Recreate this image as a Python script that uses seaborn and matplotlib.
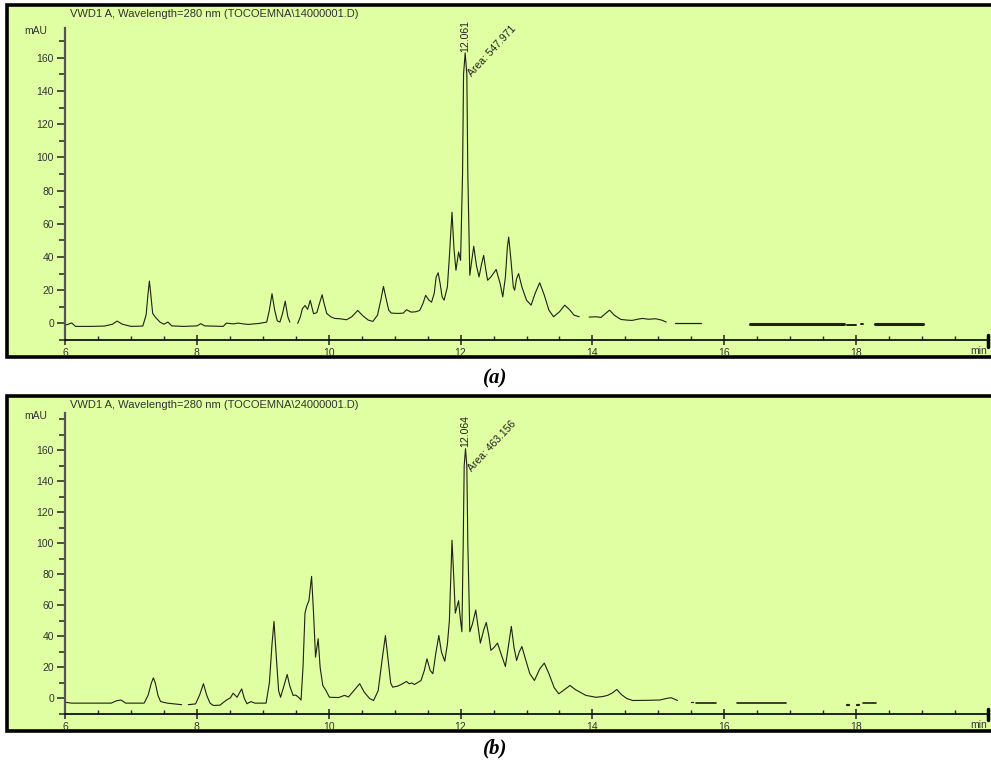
import numpy as np
import pandas as pd
import matplotlib
matplotlib.use("Agg")
import matplotlib.pyplot as plt
import seaborn as sns
from matplotlib.patches import Rectangle
from matplotlib.ticker import MultipleLocator

# ---------------- data ----------------
# Panel (a): retention time (min) and signal (mAU) vertices
a_time = [6.00, 6.05, 6.10, 6.16, 6.40, 6.60, 6.72, 6.79, 6.87, 7.00, 7.18, 7.23, 7.26, 7.28, 7.30,
          7.33, 7.37, 7.44, 7.50, 7.56, 7.62, 7.80, 8.00, 8.06, 8.12, 8.40, 8.45, 8.55, 8.63, 8.70,
          8.78, 8.95, 9.06, 9.10, 9.14, 9.18, 9.22, 9.26, 9.30, 9.34, 9.38, 9.41,
          9.53, 9.57, 9.60, 9.64, 9.68, 9.72, 9.75, 9.77, 9.82, 9.86, 9.90, 9.93, 9.97, 10.03,
          10.09, 10.17, 10.27, 10.35, 10.44, 10.52, 10.60, 10.67, 10.74, 10.79, 10.83, 10.87, 10.91,
          10.95, 11.05, 11.13, 11.18, 11.25, 11.32, 11.38, 11.43, 11.47, 11.52, 11.56, 11.60, 11.63,
          11.66, 11.69, 11.72, 11.75, 11.80, 11.83, 11.87, 11.90, 11.93, 11.97, 12.00, 12.03, 12.045,
          12.07, 12.095, 12.11, 12.14, 12.17, 12.20, 12.24, 12.28, 12.32, 12.35, 12.38, 12.41, 12.46,
          12.54, 12.60, 12.64, 12.68, 12.71, 12.73, 12.76, 12.80, 12.82, 12.85, 12.88, 12.93, 13.00,
          13.07, 13.13, 13.20, 13.27, 13.34, 13.41, 13.50, 13.58, 13.66, 13.72, 13.80,
          13.95, 14.05, 14.13, 14.20, 14.26, 14.33, 14.43, 14.52, 14.60, 14.70, 14.76, 14.85, 14.96,
          15.05, 15.12,
          15.26, 15.65,
          16.39, 17.82,
          17.86, 18.00,
          18.07, 18.10,
          18.29, 19.02]
a_mau = [-1.0, -0.5, 0.3, -1.8, -1.8, -1.6, -0.5, 1.4, -0.5, -1.8, -1.6, 5, 18, 25.5, 18,
         6, 3.8, 0.8, -0.5, 0.8, -1.5, -1.8, -1.5, -0.2, -1.5, -1.8, 0.2, -0.3, 0.2, -0.3,
         -0.6, 0.0, 0.8, 8, 17.9, 8, 1.5, 0.8, 6, 13.4, 4, 0.8,
         0.0, 4, 8.8, 10.8, 8.5, 13.9, 9, 5.8, 6.5, 12, 17.3, 12, 6, 4,
         3, 2.8, 2.2, 4, 7.8, 4.5, 2, 1.2, 5, 14, 22.3, 15, 8,
         6.2, 6, 6.2, 8.2, 6.8, 7, 7.8, 12, 16.9, 14, 12.8, 18, 28,
         30.5, 24, 16, 14, 22, 40, 67, 45, 32, 43, 38, 90, 150,
         163, 150, 90, 29, 38, 46.5, 35, 28, 36, 41, 33, 26, 28,
         32.5, 24, 16, 28, 46, 52, 40, 22, 20, 27, 30, 22, 14,
         11, 18, 24.5, 17, 8, 4, 7, 11, 8, 5, 4,
         3.8, 4, 3.6, 6, 8, 5, 2.4, 2, 1.8, 2.6, 3, 2.5, 2.8,
         2, 0.8,
         0.4, 0.4,
         -0.4, -0.4,
         -1.2, -1.2,
         -0.6, -0.6,
         -0.4, -0.4]
a_gap_starts = [9.45, 13.85, 15.2, 15.9, 17.84, 18.03, 18.2]
a_seg_width = [0.8, 0.8, 0.8, 0.9, 2.2, 1.4, 1.4, 2.2]

# Panel (b)
b_time = [6.00, 6.10, 6.70, 6.78, 6.85, 6.92, 7.20, 7.26, 7.31, 7.34, 7.37, 7.41, 7.45, 7.55, 7.77,
          7.87, 7.98, 8.04, 8.10, 8.15, 8.20, 8.25, 8.35, 8.45, 8.51, 8.55, 8.61, 8.68, 8.72, 8.76,
          8.82, 8.88, 9.05, 9.10, 9.14, 9.17, 9.20, 9.24, 9.27, 9.32, 9.37, 9.41, 9.46, 9.50, 9.55,
          9.58, 9.61, 9.64, 9.67, 9.70, 9.74, 9.77, 9.80, 9.84, 9.87, 9.91, 9.96, 10.01, 10.15,
          10.24, 10.30, 10.40, 10.47, 10.54, 10.62, 10.68, 10.75, 10.81, 10.86, 10.90, 10.94, 10.97,
          11.05, 11.12, 11.18, 11.22, 11.26, 11.30, 11.40, 11.45, 11.49, 11.54, 11.58, 11.62, 11.67,
          11.71, 11.76, 11.80, 11.83, 11.87, 11.90, 11.92, 11.97, 12.00, 12.02, 12.04, 12.055, 12.075,
          12.095, 12.11, 12.14, 12.18, 12.23, 12.27, 12.30, 12.35, 12.39, 12.43, 12.46, 12.51, 12.56,
          12.62, 12.68, 12.73, 12.77, 12.81, 12.85, 12.89, 12.93, 12.98, 13.05, 13.12, 13.20, 13.27,
          13.34, 13.42, 13.49, 13.57, 13.66, 13.75, 13.90, 14.05, 14.15, 14.23, 14.30, 14.37, 14.44,
          14.52, 14.61, 14.80, 15.02, 15.12, 15.19, 15.25, 15.29,
          15.50, 15.52,
          15.57, 15.87,
          16.20, 16.94,
          17.86, 17.89,
          18.01, 18.04,
          18.10, 18.30]
b_mau = [-2.4, -3.0, -3.0, -1.5, -1.0, -3.0, -3.0, 2, 10, 13.3, 10, 2, -2, -3, -4,
         -4, -3.5, 2, 9.5, 2, -3, -4.5, -4.3, -1, 0.5, 3.4, 0.8, 6.2, 0, -3.4,
         -2, -3, -3, 10, 35, 49.7, 30, 5, 0.8, 8, 15.5, 8, 2, 2.2, 0.5,
         -1, 20, 55, 60, 63, 78.7, 55, 26.6, 38.5, 20, 8.4, 5, 0.8, 0.6,
         2, 1, 6, 9.5, 4, 0, -1.3, 5, 25, 40.6, 25, 10, 7.3,
         8, 9.5, 11, 9.5, 10, 9, 11.6, 18, 25.6, 18, 16, 28, 40.6,
         30, 24, 35, 50, 102, 75, 55, 63, 50, 43, 100, 150, 161,
         150, 100, 43, 48, 57, 45, 35.7, 44, 49, 40, 31, 33, 35.7,
         28, 20.6, 35, 46.5, 33, 24.5, 30, 33.5, 26, 16, 11.6, 19, 22.8,
         16, 7, 3, 5.5, 8.4, 5.5, 2, 0.8, 1.2, 2, 3.5, 5.8, 2.5,
         0, -1.3, -1.2, -1, 0, 0.5, -0.5, -1.3,
         -2, -2,
         -2.6, -2.6,
         -3, -3,
         -4, -4,
         -4, -4,
         -3, -3]
b_gap_starts = [7.8, 15.4, 15.55, 16.0, 17.5, 17.95, 18.07]
b_seg_width = [0.8, 0.8, 0.9, 1.2, 1.2, 1.6, 1.6, 1.2]

titles = ["VWD1 A, Wavelength=280 nm (TOCOEMNA\\14000001.D)",
          "VWD1 A, Wavelength=280 nm (TOCOEMNA\\24000001.D)"]
peak_rt = ["12.061", "12.064"]
peak_area = ["Area: 547.971", "Area: 463.156"]
captions = ["(a)", "(b)"]
ylims = [(-10, 178), (-10, 184)]
x_ticks = [6, 8, 10, 12, 14, 16, 18]
y_ticks = [0, 20, 40, 60, 80, 100, 120, 140, 160]

# ---------------- figure ----------------
W, H = 991, 764
fig = plt.figure(figsize=(W / 100, H / 100), dpi=100)
sns.set_style("ticks")
plt.rcParams["font.family"] = ["Liberation Sans", "DejaVu Sans"]

BG = "#E0FFA2"
TXT = "#333333"
LINE = "#1e2010"

def fx(px):
    return px / W

def fy(py):
    return 1 - py / H

# panel boxes (pixel geometry): (box_top, box_bottom, axes_top, axes_bottom)
geo = [(5, 357, 28, 340), (396, 731, 413, 714)]
panels = [(a_time, a_mau, a_gap_starts, a_seg_width),
          (b_time, b_mau, b_gap_starts, b_seg_width)]

for i, ((bt, bb, at, ab), (tt, vv, gaps, widths)) in enumerate(zip(geo, panels)):
    rect = Rectangle((fx(7), fy(bb)), fx(1010 - 7), (bb - bt) / H,
                     transform=fig.transFigure, facecolor=BG, edgecolor="black",
                     linewidth=2.6, zorder=0)
    fig.patches.append(rect)

    ax = fig.add_axes([fx(65), fy(ab), fx(988 - 65), (ab - at) / H])
    ax.set_zorder(2)
    ax.patch.set_alpha(0)

    df = pd.DataFrame({"time": tt, "mAU": vv})
    df["seg"] = np.searchsorted(np.array(gaps), df["time"].values)
    for s, sub in df.groupby("seg"):
        sns.lineplot(data=sub, x="time", y="mAU", ax=ax, color=LINE,
                     linewidth=widths[s], estimator=None, sort=False)

    ax.set_xlim(6, 20)
    ax.set_ylim(*ylims[i])
    ax.set_xticks(x_ticks)
    ax.set_xticklabels([str(t) for t in x_ticks])
    ax.set_yticks(y_ticks)
    ax.set_yticklabels([str(t) for t in y_ticks])
    ax.xaxis.set_minor_locator(MultipleLocator(0.5))
    ax.yaxis.set_minor_locator(MultipleLocator(10))
    ax.set_xlabel("")
    ax.set_ylabel("")
    for sp in ["top", "right"]:
        ax.spines[sp].set_visible(False)
    ax.spines["left"].set_color("#555555")
    ax.spines["left"].set_linewidth(1.6)
    ax.spines["bottom"].set_color("#111111")
    ax.spines["bottom"].set_linewidth(1.3)
    ax.tick_params(axis="y", which="major", direction="out", length=6, width=1.1,
                   color="#222222", labelsize=7.5, labelcolor=TXT, pad=2)
    ax.tick_params(axis="y", which="minor", direction="out", length=4, width=1.1,
                   color="#222222")
    ax.tick_params(axis="x", which="major", direction="inout", length=7, width=1.1,
                   color="#222222", labelsize=7.5, labelcolor=TXT, pad=2)
    ax.tick_params(axis="x", which="minor", direction="in", length=3, width=1.0,
                   color="#222222")

    # end marker of the time axis
    ax.plot([20, 20], [ylims[i][0] - 4, ylims[i][0] + 3], color="black", lw=2.5,
            clip_on=False)
    ax.text(19.98, ylims[i][0] - 3.6, "min", ha="right", va="top", fontsize=7.5,
            color=TXT, transform=ax.transData, clip_on=False)

    fig.text(fx(24), fy(at + 3), "mAU", ha="left", va="center", fontsize=7.5, color=TXT)
    fig.text(fx(70), fy(bt + 9), titles[i], ha="left", va="center", fontsize=8, color=TXT)

    # main peak annotation
    d = df.iloc[df["mAU"].values.argmax()]
    ax.annotate(peak_rt[i], xy=(d["time"], d["mAU"]), xytext=(0, 1),
                textcoords="offset points", rotation=90, ha="center", va="bottom",
                fontsize=7.5, color="#222222")
    ax.annotate(peak_area[i], xy=(d["time"], d["mAU"]), xytext=(6, -18),
                textcoords="offset points", rotation=47, ha="left", va="bottom",
                rotation_mode="anchor", fontsize=7.5, color="#222222")

    cy = [378, 748][i]
    fig.text(0.5, fy(cy), captions[i], ha="center", va="center", fontsize=15,
             fontweight="bold", fontstyle="italic", family="Liberation Serif", color="black")

fig.savefig("out.png", dpi=100)
